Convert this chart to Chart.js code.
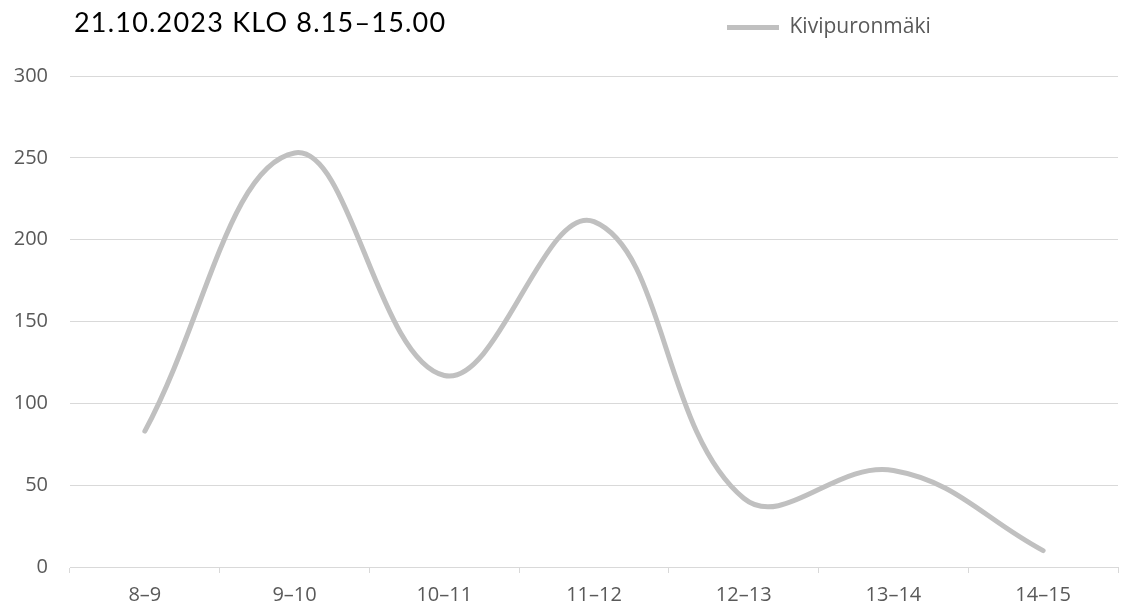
<!DOCTYPE html>
<html>
<head>
<meta charset="utf-8">
<script src="https://cdn.jsdelivr.net/npm/chart.js@4/dist/chart.umd.min.js"></script>
<style>
  html, body { margin: 0; padding: 0; background: #fff; }
  #wrap { position: relative; width: 1121px; height: 610px; }
  #title {
    position: absolute; left: 74px; top: 8px;
    font-family: Lato, "DejaVu Sans", sans-serif; font-size: 27px; line-height: 1;
    letter-spacing: 1.2px; color: #000; white-space: nowrap;
  }
</style>
</head>
<body>
<div id="wrap">
  <canvas id="myChart" width="1121" height="610"></canvas>
  <div id="title">21.10.2023 KLO 8.15–15.00</div>
</div>
<script>
const hours = ['8–9', '9–10', '10–11', '11–12', '12–13', '13–14', '14–15'];
const visitors = [83, 253, 117, 211, 42, 59, 10];
const seriesName = 'Kivipuronmäki';
const yTicks = [0, 50, 100, 150, 200, 250, 300];

const lineGrey = '#c0c0c0';
const gridGrey = '#d9d9d9';
const textGrey = '#595959';
const uiFont = '"Open Sans", sans-serif';

// legend goes on the title row, right of centre
const legendSpot = {
  id: 'legendSpot',
  afterLayout(chart) {
    const lg = chart.legend;
    lg.left = 719;
    lg.right = 1000;
    lg.top -= 28;
    lg.bottom -= 28;
  }
};

new Chart(document.getElementById('myChart').getContext('2d'), {
  type: 'line',
  data: {
    labels: hours,
    datasets: [{
      label: seriesName,
      data: visitors,
      borderColor: lineGrey,
      backgroundColor: lineGrey,
      borderWidth: 5,
      borderCapStyle: 'round',
      pointRadius: 0,
      tension: 0.4,
      fill: false
    }]
  },
  plugins: [legendSpot],
  options: {
    responsive: false,
    animation: false,
    layout: { padding: { top: 37, right: 3, left: 0, bottom: 0 } },
    plugins: {
      title: { display: false },
      tooltip: { enabled: false },
      legend: {
        display: true,
        position: 'top',
        align: 'start',
        labels: {
          usePointStyle: true,
          pointStyle: 'line',
          pointStyleWidth: 52,
          color: textGrey,
          padding: 8,
          font: { family: uiFont, size: 21 }
        }
      }
    },
    scales: {
      x: {
        offset: true,
        afterFit(axis) { axis.height = 43; },
        grid: {
          display: true,
          drawOnChartArea: false,
          drawTicks: true,
          tickLength: 6,
          color: gridGrey,
          offset: true
        },
        border: { display: true, color: gridGrey, width: 1 },
        ticks: {
          color: textGrey,
          padding: 10,
          maxRotation: 0,
          font: { family: uiFont, size: 20 }
        }
      },
      y: {
        min: 0,
        max: 300,
        afterFit(axis) { axis.width = 70; },
        afterBuildTicks(axis) {
          axis.ticks = yTicks.map(v => ({ value: v }));
        },
        grid: { color: gridGrey, drawTicks: false },
        border: { display: false },
        ticks: {
          color: textGrey,
          padding: 22,
          font: { family: uiFont, size: 20 }
        }
      }
    }
  }
});
</script>
</body>
</html>
